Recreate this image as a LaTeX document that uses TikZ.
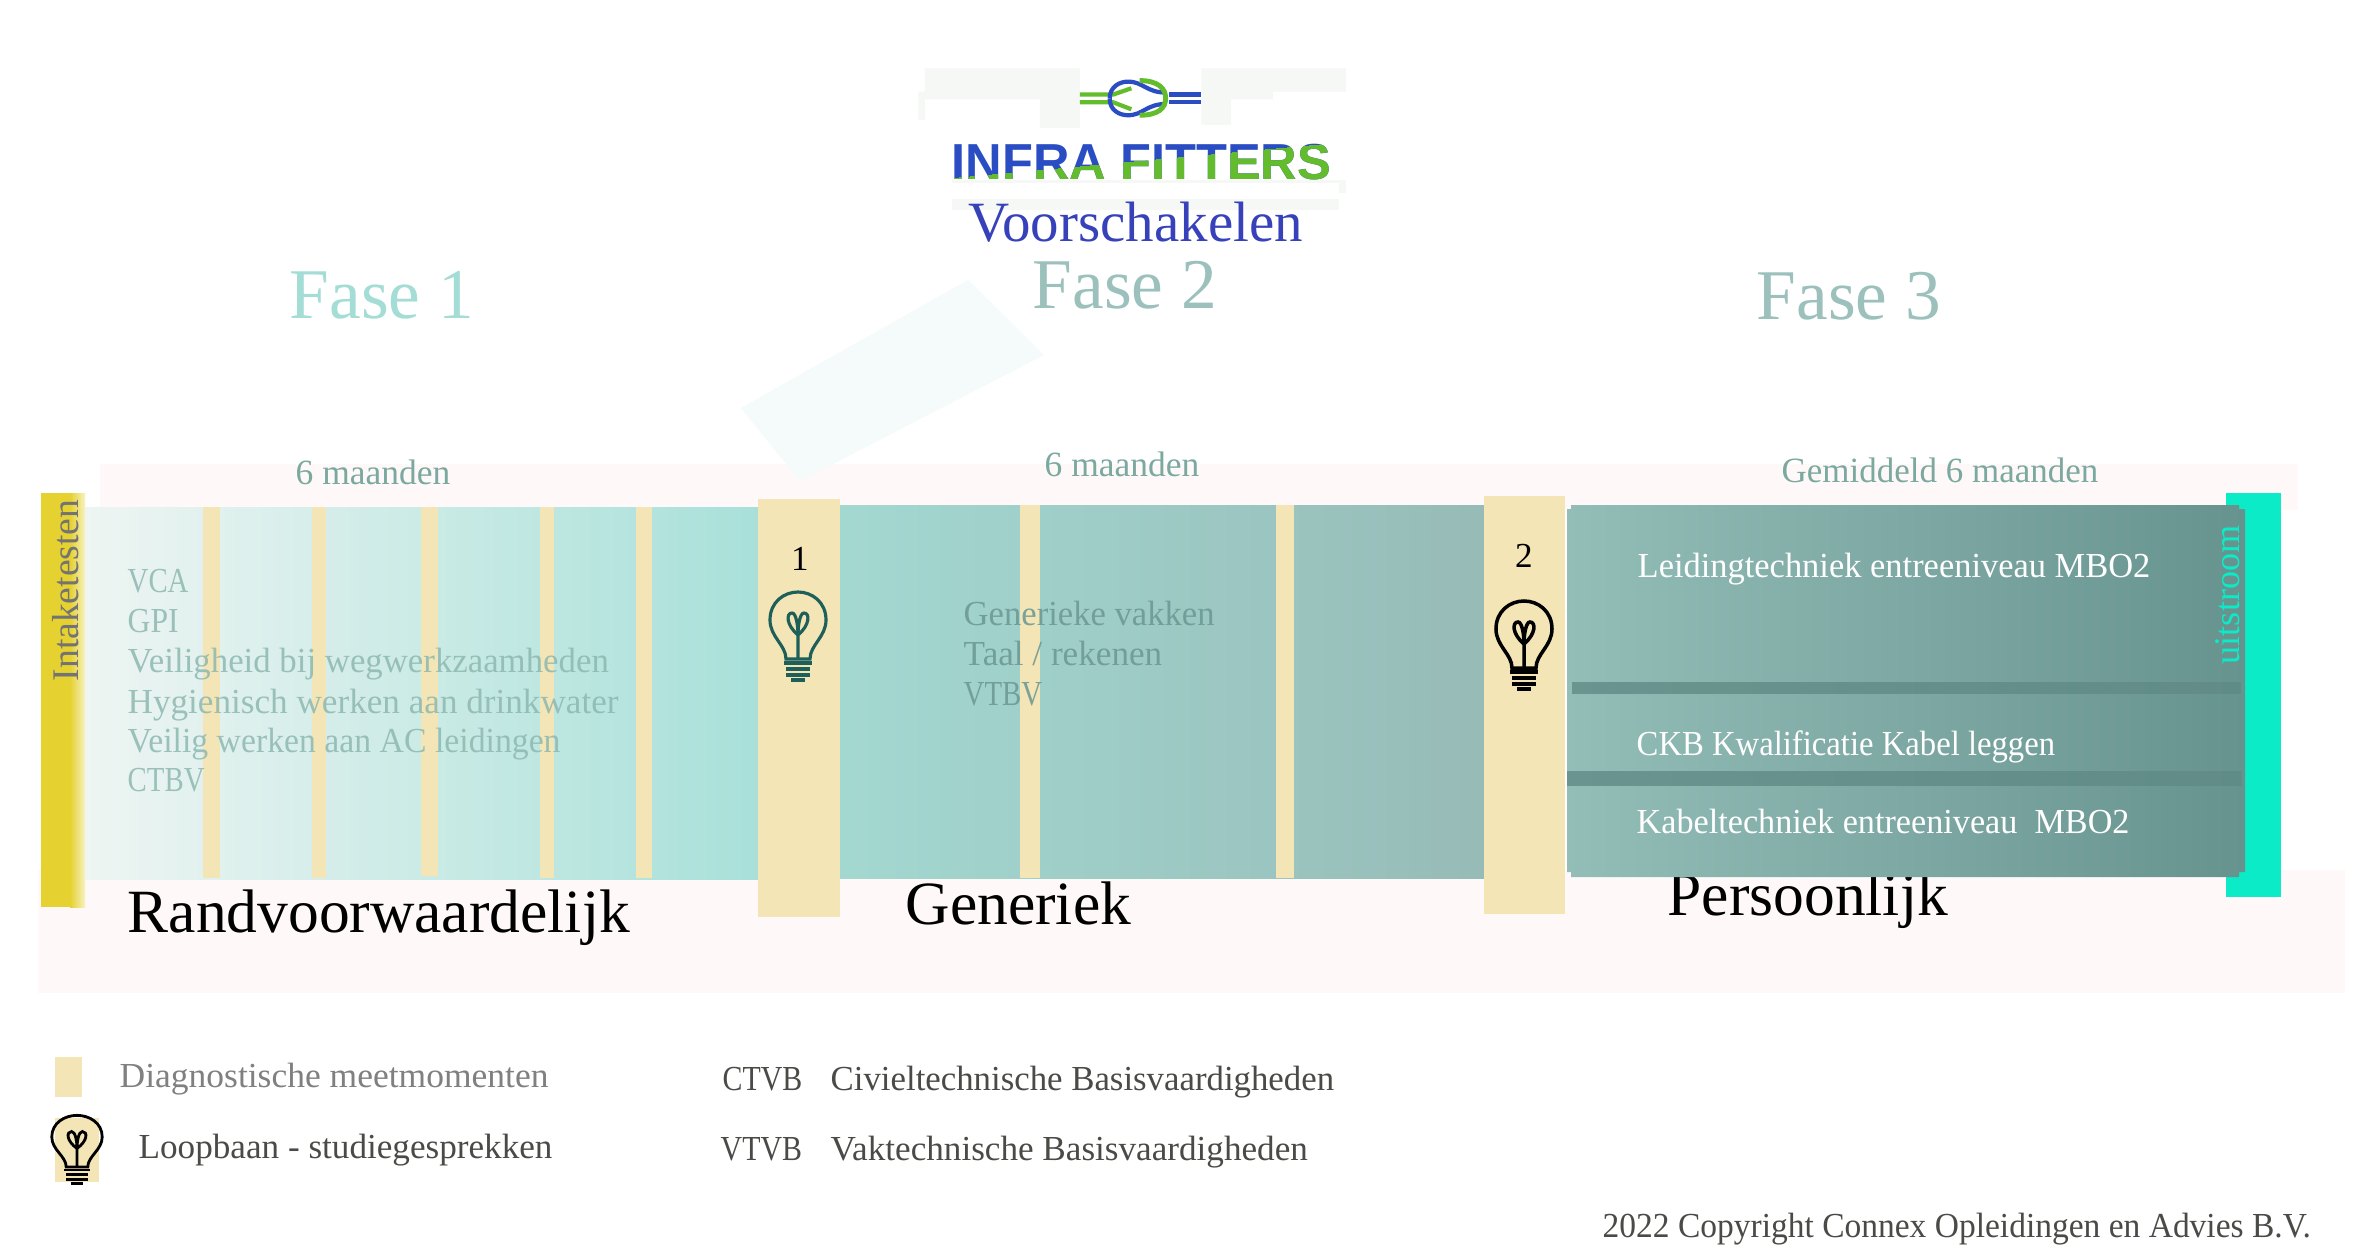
\documentclass[tikz,border=0pt]{standalone}
\usepackage{fontspec}
\setmainfont{Liberation Serif}
\newfontfamily\logofont{Liberation Sans}
\usepackage{tikz}
\definecolor{meet}{HTML}{F3E5B5}
\definecolor{band}{HTML}{FEF9F8}
\definecolor{patch}{HTML}{F6F8F5}
\definecolor{logoblue}{HTML}{2A4DC4}
\definecolor{logogreen}{HTML}{62BC2C}
\definecolor{lampteal}{HTML}{1F5F5A}
\definecolor{uit}{HTML}{0CEBC8}
\definecolor{fasea}{HTML}{A3DDD5}
\definecolor{faseb}{HTML}{9CC1BD}
\definecolor{duurtxt}{HTML}{7BA9A0}
\definecolor{randtxt}{HTML}{8DB8B0}
\definecolor{gentxt}{HTML}{6E9A96}
\definecolor{legtxt}{HTML}{4A4A46}
\definecolor{strookkleur}{HTML}{5F8A86}
\definecolor{mosterd}{HTML}{E5D130}
\definecolor{randstart}{HTML}{EEF5F3}
\definecolor{randeind}{HTML}{A8E0D9}
\definecolor{genstart}{HTML}{A3D8D1}
\definecolor{geneind}{HTML}{97BBB7}
\definecolor{persstart}{HTML}{93BDB7}
\definecolor{perseind}{HTML}{67938F}
\newcommand{\squeeze}[2]{\scalebox{#1}[1]{#2}}
\tikzstyle{txt} = [anchor=base west, inner sep=0pt]
\tikzstyle{fase} = [txt, font=\fontsize{20.3}{24}\selectfont]
\tikzstyle{duur} = [txt, font=\fontsize{10.1}{12}\selectfont, text=duurtxt]
\tikzstyle{vak} = [txt, font=\fontsize{10}{12}\selectfont]
\tikzstyle{kop} = [txt, font=\fontsize{17.5}{21}\selectfont, text=black]
\tikzstyle{legenda} = [txt, font=\fontsize{10}{12}\selectfont, text=legtxt]
\tikzstyle{stripe} = [fill=meet]
\tikzstyle{strook} = [fill=strookkleur, opacity=.8]
\tikzset{
	bulb/.pic={
		\path[pic actions] (-12,22) .. controls (-12,8) and (-28,0) .. (-28,-17) .. controls (-28,-35) and (-14,-45) .. (0,-45) .. controls (14,-45) and (28,-35) .. (28,-17) .. controls (28,0) and (12,8) .. (12,22) -- cycle;
		\path[pic actions] (0,22) -- (0,-2) .. controls (-12,-12) and (-12,-24) .. (-6,-24) .. controls (-2,-24) and (0,-12) .. (0,-2) .. controls (0,-12) and (2,-24) .. (6,-24) .. controls (12,-24) and (12,-12) .. (0,-2);
		\path[pic actions] (-14,26) -- (14,26) (-12,32) -- (12,32) (-12,38) -- (12,38) (-7,43) -- (7,43);
	}
}

\begin{document}
\begin{tikzpicture}[x=0.1mm,y=-0.1mm]
	\useasboundingbox (0,0) rectangle (2372,1257);
	\fill[white] (0,0) rectangle (2372,1257);
	
	%bands
	\fill[band] (100,464) rectangle (2298,510);
	\fill[band] (38,870) rectangle (2345,993);
	\fill[fasea!12!white] (741,408) -- (968,280) -- (1044,355) -- (800,481) -- cycle;
	
	%logo
	\begin{scope}[shift={(880,40)},x=0.0333mm,y=-0.0333mm]
		\fill[patch] (135,85) -- (600,85) -- (600,265) -- (480,265) -- (480,178) -- (135,178) -- (135,240) -- (115,240) -- (115,155) -- (135,155) -- cycle;
		\fill[patch] (965,85) -- (1400,85) -- (1400,155) -- (1180,155) -- (1180,178) -- (1055,178) -- (1055,255) -- (965,255) -- cycle;
		\fill[patch] (215,478) rectangle (1380,510);
		\fill[patch] (215,420) rectangle (1380,430);
		\fill[patch] (1380,420) rectangle (1400,460);
		\draw[logogreen, line width=1.2pt] (600,164) -- (700,164) -- (755,145);
		\draw[logogreen, line width=1.2pt] (600,187) -- (700,187) -- (755,208);
		\draw[logoblue, line width=1.2pt] (690,176) .. controls (690,140) and (720,125) .. (745,125) .. controls (790,125) and (800,158) .. (860,158);
		\draw[logoblue, line width=1.2pt] (690,176) .. controls (690,212) and (720,226) .. (745,226) .. controls (790,226) and (800,192) .. (860,192);
		\draw[logogreen, line width=1.4pt] (780,122) .. controls (835,122) and (858,145) .. (858,175) .. controls (858,205) and (835,226) .. (780,226);
		\draw[logoblue, line width=1.2pt] (868,164) -- (963,164);
		\draw[logoblue, line width=1.2pt] (868,187) -- (963,187);
	\end{scope}
	\node[txt, font=\logofont\bfseries\fontsize{14.4}{16}\selectfont, text=logoblue] (logo) at (951,179) {INFRA FITTERS};
	\begin{scope}
		\clip (951,179) -- (951,178) -- (1333,143) -- (1333,185) -- (951,185) -- cycle;
		\node[txt, font=\logofont\bfseries\fontsize{14.4}{16}\selectfont, text=logogreen] (logogroen) at (951,179) {INFRA FITTERS};
	\end{scope}
	\node[txt, font=\fontsize{16.2}{18}\selectfont, text=logoblue!85!violet] (titel) at (968,241) {Voorschakelen};
	
	%fase headers
	\node[fase, text=fasea] (fase1) at (289,318) {Fase 1};
	\node[fase, text=faseb] (fase2) at (1032,308) {Fase 2};
	\node[fase, text=faseb] (fase3) at (1756,319) {Fase 3};
	\node[duur] (duur1) at (295,484) {6 maanden};
	\node[duur] (duur2) at (1044,476) {6 maanden};
	\node[duur] (duur3) at (1781,482) {\squeeze{.985}{Gemiddeld 6 maanden}};
	
	%headings that the box covers
	\node[kop] (rand) at (127,932) {Randvoorwaardelijk};
	\node[kop] (gen) at (905,924) {Generiek};
	\node[kop] (pers) at (1667,915) {Persoonlijk};
	
	%bars
	\fill[mosterd] (41,493) rectangle (70,907);
	\shade[left color=mosterd, right color=mosterd!30!white] (70,493) rectangle (85,907);
	\shade[left color=randstart, right color=randeind] (85,507) rectangle (758,879);
	\shade[left color=genstart, right color=geneind] (840,505) rectangle (1486,878);
	\fill[uit] (2226,493) rectangle (2281,897);
	\shade[left color=persstart, right color=perseind] (1571,505) -- (2239,505) -- (2239,509) -- (2245,509) -- (2245,872) -- (2239,872) -- (2239,877) -- (1571,877) -- (1571,872) -- (1567,872) -- (1567,509) -- (1571,509) -- cycle;
	
	%stripes
	\fill[stripe] (203,507) rectangle (220,878);
	\fill[stripe] (312,507) rectangle (326,878);
	\fill[stripe] (421,507) rectangle (438,876);
	\fill[stripe] (540,507) rectangle (554,878);
	\fill[stripe] (636,507) rectangle (652,878);
	\fill[stripe] (1020,505) rectangle (1040,878);
	\fill[stripe] (1276,505) rectangle (1294,878);
	\fill[stripe] (758,499) rectangle (840,917);
	\fill[stripe] (1484,496) rectangle (1565,914);
	\fill[strook] (1572,682) rectangle (2241,694);
	\fill[strook] (1567,771) rectangle (2242,786);
	
	%moments
	\node[vak, anchor=base, text=black] (een) at (800,570) {1};
	\node[vak, anchor=base, text=black] (twee) at (1524,567) {2};
	\pic[draw=lampteal, line width=0.9pt] (lamp1) at (798,637) {bulb};
	\pic[draw=black, line width=1pt] (lamp2) at (1524,646) {bulb};
	
	%side labels
	\node[vak, font=\fontsize{10.7}{12}\selectfont, rotate=90, text=black!55] (intake) at (78,682) {Intaketesten};
	\node[vak, font=\fontsize{10.3}{12}\selectfont, rotate=90, text=uit] (uitstroom) at (2239,665) {uitstroom};
	
	%lists
	\node[vak, text=randtxt, text opacity=.85] (vca) at (127,592) {\squeeze{.82}{VCA}};
	\node[vak, text=randtxt, text opacity=.85] (gpi) at (127,632) {\squeeze{.9}{GPI}};
	\node[vak, text=randtxt, text opacity=.85] (wegwerk) at (127,672) {\squeeze{.99}{Veiligheid bij wegwerkzaamheden}};
	\node[vak, text=randtxt, text opacity=.85] (hygiene) at (127,713) {Hygienisch werken aan drinkwater};
	\node[vak, text=randtxt, text opacity=.85] (acleiding) at (127,752) {\squeeze{.96}{Veilig werken aan AC leidingen}};
	\node[vak, text=randtxt, text opacity=.85] (ctbv) at (127,791) {\squeeze{.82}{CTBV}};
	\node[vak, text=gentxt, text opacity=.9] (generieke) at (963,625) {\squeeze{.985}{Generieke vakken}};
	\node[vak, text=gentxt, text opacity=.9] (taal) at (963,665) {Taal / rekenen};
	\node[vak, text=gentxt, text opacity=.9] (vtbv) at (963,705) {\squeeze{.82}{VTBV}};
	\node[vak, text=white] (leiding) at (1637,577) {\squeeze{.98}{Leidingtechniek entreeniveau MBO2}};
	\node[vak, text=white] (ckb) at (1636,755) {\squeeze{.93}{CKB Kwalificatie Kabel leggen}};
	\node[vak, text=white] (kabel) at (1636,833) {\squeeze{.973}{Kabeltechniek entreeniveau\ \ MBO2}};
	
	%legend
	\fill[stripe] (55,1057) rectangle (82,1097);
	\fill[stripe] (55,1118) rectangle (99,1182);
	\pic[draw=black, line width=0.8pt, xscale=.9, yscale=.77] (lamp3) at (77,1150) {bulb};
	\node[legenda, text=black!50] (diag) at (119,1087) {\squeeze{1.01}{Diagnostische meetmomenten}};
	\node[legenda] (loop) at (138,1158) {Loopbaan - studiegesprekken};
	\node[legenda] (ctvb) at (722,1090) {\squeeze{.85}{CTVB}};
	\node[legenda] (civiel) at (830,1090) {\squeeze{.99}{Civieltechnische Basisvaardigheden}};
	\node[legenda] (vtvb) at (720,1160) {\squeeze{.85}{VTVB}};
	\node[legenda] (vak) at (830,1160) {Vaktechnische Basisvaardigheden};
	\node[legenda] (copy) at (1602,1237) {\squeeze{.953}{2022 Copyright Connex Opleidingen en Advies B.V.}};
\end{tikzpicture}
\end{document}
